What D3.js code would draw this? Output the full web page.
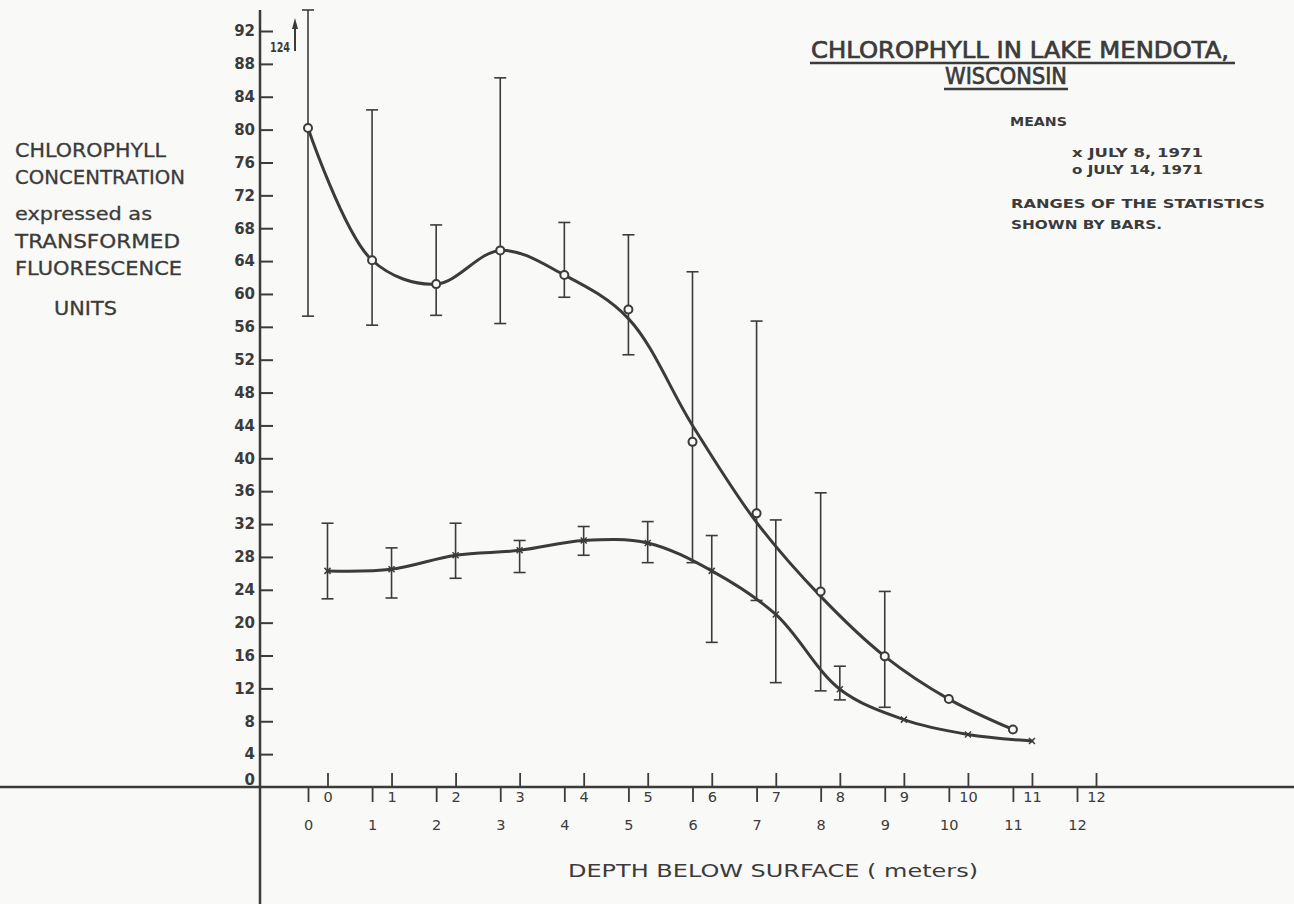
<!DOCTYPE html>
<html>
<head>
<meta charset="utf-8">
<script src="https://cdn.jsdelivr.net/npm/d3@7"></script>
<style>
  body { margin: 0; background: #f9f9f7; }
  svg { display: block; }
</style>
</head>
<body>
<svg id="chart" width="1294" height="904"></svg>
<script>
// depths in meters, one reading per meter
const depths = [0, 1, 2, 3, 4, 5, 6, 7, 8, 9, 10, 11]

// x  July 8, 1971
const july8Mean = [26.3, 26.5, 28.2, 28.8, 30.0, 29.7, 26.3, 21.0, 11.9, 8.2, 6.4, 5.6]
const july8Low = [22.9, 23.0, 25.4, 26.1, 28.2, 27.3, 17.6, 12.7, 10.6, null, null, null]
const july8High = [32.1, 29.1, 32.1, 30.0, 31.7, 32.3, 30.6, 32.5, 14.7, null, null, null]

// o  July 14, 1971
const july14Mean = [80.2, 64.1, 61.2, 65.3, 62.3, 58.1, 42.0, 33.3, 23.8, 15.9, 10.7, 7.0]
const july14Low = [57.3, 56.2, 57.4, 56.4, 59.6, 52.6, 27.3, 22.7, 11.7, 9.7, null, null]
const july14High = [124, 82.4, 68.4, 86.3, 68.7, 67.2, 62.7, 56.7, 35.8, 23.8, null, null]
// the hand-drawn smooth curve does not pass exactly through every mean,
// these are the curve heights at each depth
const july14Curve = [80.2, 64.1, 61.2, 65.3, 62.3, 57.0, 44.0, 32.2, 23.2, 15.9, 10.7, 7.0]

const yTicks = d3.range(0, 93, 4)
const xTicks = d3.range(0, 13, 1)

const ink = '#3b3b3b'
const bg = '#f9f9f7'
const font = "'DejaVu Sans', 'Liberation Sans', sans-serif"

let svg = d3.select('#chart')

let y = d3.scaleLinear().domain([0, 92]).range([787, 31])
let yTop = y.invert(10)
// two offset depth scales, upper one for July 8, lower one for July 14
let x8 = d3.scaleLinear().domain([0, 12]).range([327.5, 1096])
let x14 = d3.scaleLinear().domain([0, 12]).range([308, 1077])
let axisX = 260

// main axis lines
svg.append('line')
  .attr('x1', 0).attr('x2', 1294)
  .attr('y1', y(0)).attr('y2', y(0))
  .attr('stroke', ink).attr('stroke-width', 2.5)
svg.append('line')
  .attr('x1', axisX).attr('x2', axisX)
  .attr('y1', 10).attr('y2', 904)
  .attr('stroke', ink).attr('stroke-width', 2.5)

// y axis, ticks to the right
let gy = svg.append('g')
  .attr('transform', 'translate(' + axisX + ',0)')
  .call(d3.axisLeft(y)
    .tickValues(yTicks)
    .tickSizeInner(-13)
    .tickSizeOuter(0)
    .tickPadding(5))
gy.select('.domain').remove()
gy.selectAll('.tick line').attr('stroke', ink).attr('stroke-width', 2)
gy.selectAll('.tick text')
  .attr('fill', ink)
  .style('font-family', font)
  .style('font-size', '15px')
  .style('font-weight', 'bold')
gy.selectAll('.tick').filter((d) => d === 0).select('line').remove()
gy.selectAll('.tick').filter((d) => d === 0).select('text').attr('dy', '-0.15em')

// upper depth axis (July 8)
let gx8 = svg.append('g')
  .attr('transform', 'translate(0,' + y(0) + ')')
  .call(d3.axisBottom(x8)
    .tickValues(xTicks)
    .tickSizeInner(-14)
    .tickSizeOuter(0)
    .tickPadding(5))
gx8.select('.domain').remove()

// lower depth axis (July 14)
let gx14 = svg.append('g')
  .attr('transform', 'translate(0,' + y(0) + ')')
  .call(d3.axisBottom(x14)
    .tickValues(xTicks)
    .tickSizeInner(15)
    .tickSizeOuter(0)
    .tickPadding(18))
gx14.select('.domain').remove()

;[gx8, gx14].forEach((g) => {
  g.selectAll('.tick line').attr('stroke', ink).attr('stroke-width', 1.8)
  g.selectAll('.tick text')
    .attr('fill', ink)
    .style('font-family', font)
    .style('font-size', '14.5px')
})

// error bars
function drawBars (xs, lows, highs) {
  let g = svg.append('g').attr('stroke', ink).attr('stroke-width', 1.6)
  depths.forEach((d, i) => {
    if (lows[i] === null) return
    let cx = xs(d)
    let y0 = y(lows[i])
    let y1 = y(Math.min(highs[i], yTop))
    g.append('line').attr('x1', cx).attr('x2', cx).attr('y1', y0).attr('y2', y1)
    g.append('line').attr('x1', cx - 6).attr('x2', cx + 6).attr('y1', y0).attr('y2', y0)
    g.append('line').attr('x1', cx - 6).attr('x2', cx + 6).attr('y1', y1).attr('y2', y1)
  })
}
drawBars(x8, july8Low, july8High)
drawBars(x14, july14Low, july14High)

// smoothed curves
let line8 = d3.line()
  .x((d, i) => x8(depths[i]))
  .y((d) => y(d))
  .curve(d3.curveCatmullRom.alpha(0.5))
let line14 = d3.line()
  .x((d, i) => x14(depths[i]))
  .y((d) => y(d))
  .curve(d3.curveCatmullRom.alpha(0.5))

svg.append('path')
  .datum(july8Mean)
  .attr('fill', 'none')
  .attr('stroke', ink)
  .attr('stroke-width', 3)
  .attr('stroke-linecap', 'round')
  .attr('d', line8)
svg.append('path')
  .datum(july14Curve)
  .attr('fill', 'none')
  .attr('stroke', ink)
  .attr('stroke-width', 3)
  .attr('stroke-linecap', 'round')
  .attr('d', line14)

// markers
svg.append('g')
  .selectAll('path')
  .data(july8Mean)
  .enter().append('path')
  .attr('d', (d, i) => {
    let cx = x8(depths[i])
    let cy = y(d)
    return 'M' + (cx - 3) + ',' + (cy - 3) + 'L' + (cx + 3) + ',' + (cy + 3) +
      'M' + (cx - 3) + ',' + (cy + 3) + 'L' + (cx + 3) + ',' + (cy - 3)
  })
  .attr('stroke', ink)
  .attr('stroke-width', 1.5)

svg.append('g')
  .selectAll('circle')
  .data(july14Mean)
  .enter().append('circle')
  .attr('cx', (d, i) => x14(depths[i]))
  .attr('cy', (d) => y(d))
  .attr('r', 4)
  .attr('fill', bg)
  .attr('stroke', ink)
  .attr('stroke-width', 2)

// off-scale top of the first July 14 bar
let ax = x14(0) - 13
svg.append('line')
  .attr('x1', ax).attr('x2', ax)
  .attr('y1', 51).attr('y2', 26)
  .attr('stroke', ink).attr('stroke-width', 2)
svg.append('path')
  .attr('d', 'M' + (ax - 3) + ',29L' + ax + ',18L' + (ax + 3) + ',29Z')
  .attr('fill', ink)
svg.append('text')
  .attr('x', ax - 5).attr('y', 52)
  .attr('text-anchor', 'end')
  .attr('fill', ink)
  .attr('textLength', 20)
  .attr('lengthAdjust', 'spacingAndGlyphs')
  .style('font-family', font)
  .style('font-size', '14px')
  .style('font-weight', 'bold')
  .text(july14High[0])

// title and legend
function label (txt, x, yy, size, opts) {
  opts = opts || {}
  let t = svg.append('text')
    .attr('x', x).attr('y', yy)
    .attr('fill', ink)
    .style('font-family', font)
    .style('font-size', size + 'px')
    .style('font-weight', opts.bold ? 'bold' : 'normal')
    .text(txt)
  if (opts.len) t.attr('textLength', opts.len).attr('lengthAdjust', 'spacingAndGlyphs')
  if (opts.stroke) t.attr('stroke', ink).attr('stroke-width', opts.stroke)
  return t
}

label('CHLOROPHYLL  IN  LAKE  MENDOTA,', 811, 58, 23, {len: 418, stroke: 0.7})
svg.append('line').attr('x1', 810).attr('x2', 1235).attr('y1', 63).attr('y2', 63)
  .attr('stroke', ink).attr('stroke-width', 2.5)
label('WISCONSIN', 945, 84, 23, {len: 122, stroke: 0.7})
svg.append('line').attr('x1', 944).attr('x2', 1068).attr('y1', 89).attr('y2', 89)
  .attr('stroke', ink).attr('stroke-width', 2.5)

label('MEANS', 1010, 126, 12.5, {len: 57, bold: true})
label('x  JULY  8, 1971', 1072, 157, 12.5, {len: 131, bold: true})
label('o  JULY  14, 1971', 1072, 174, 12.5, {len: 131, bold: true})
label('RANGES  OF  THE  STATISTICS', 1011, 208, 12.5, {len: 254, bold: true})
label('SHOWN  BY  BARS.', 1011, 229, 12.5, {len: 151, bold: true})

// y axis title
label('CHLOROPHYLL', 15, 157, 19, {len: 151, stroke: 0.3})
label('CONCENTRATION', 15, 184, 19, {len: 170, stroke: 0.3})
label('expressed  as', 15, 220, 18, {len: 137, stroke: 0.3})
label('TRANSFORMED', 15, 248, 19, {len: 165, stroke: 0.3})
label('FLUORESCENCE', 15, 275, 19, {len: 167, stroke: 0.3})
label('UNITS', 54, 315, 19, {len: 63, stroke: 0.3})

// x axis title
label('DEPTH  BELOW  SURFACE  ( meters)', 568, 877, 17, {len: 410})
</script>
</body>
</html>
